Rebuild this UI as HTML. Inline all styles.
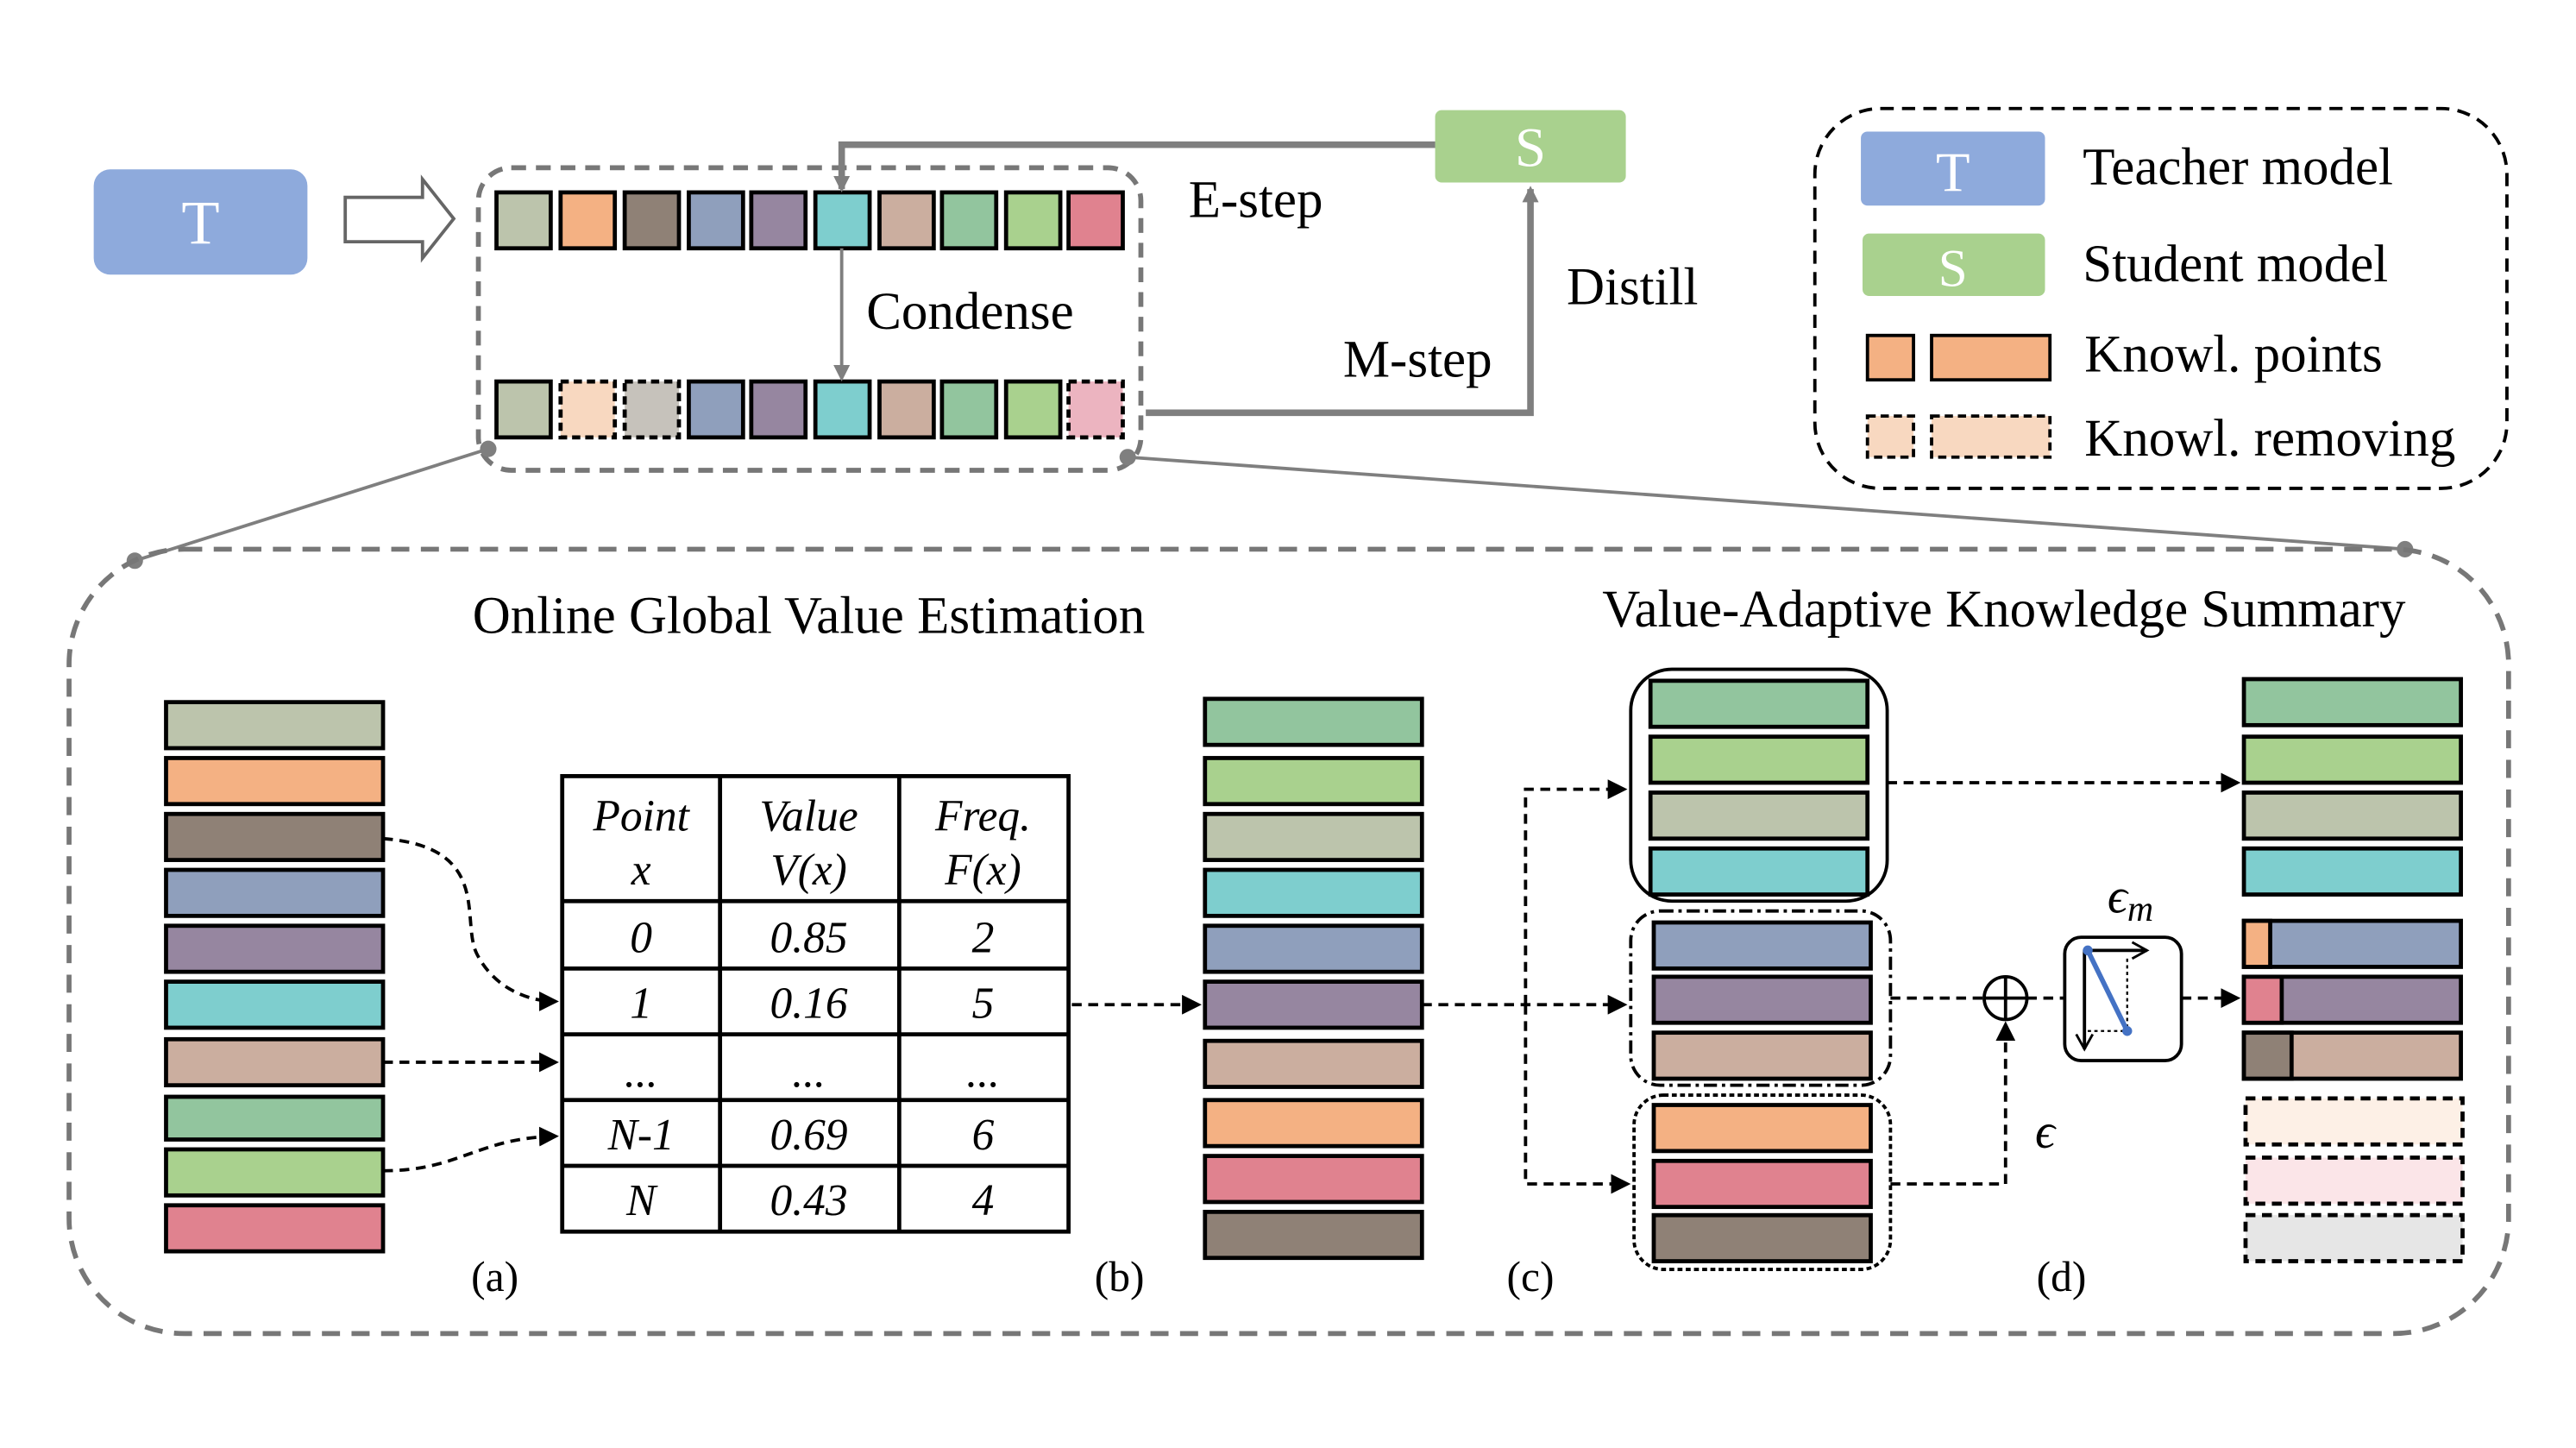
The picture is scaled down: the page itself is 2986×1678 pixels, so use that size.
<!DOCTYPE html>
<html><head><meta charset="utf-8"><style>html,body{margin:0;padding:0;background:#fff}svg{display:block}text{font-family:"Liberation Serif",serif}</style></head><body>
<svg width="2986" height="1678" viewBox="0 0 1567 880.6" xmlns="http://www.w3.org/2000/svg">
<defs>
<marker id="ag" markerWidth="10" markerHeight="10" refX="8" refY="5" orient="auto" markerUnits="userSpaceOnUse"><path d="M0,0 L10,5 L0,10 z" fill="#7f7f7f"/></marker>
<marker id="ak" markerWidth="12" markerHeight="12" refX="10" refY="6" orient="auto" markerUnits="userSpaceOnUse"><path d="M0,0 L12,6 L0,12 z" fill="#000"/></marker>
<marker id="ao" markerWidth="12" markerHeight="12" refX="10" refY="6" orient="auto" markerUnits="userSpaceOnUse"><path d="M1,1 L10,6 L1,11" fill="none" stroke="#000" stroke-width="1.5"/></marker>
</defs>
<rect width="1567" height="880.6" fill="#fff"/>
<rect x="57" y="103" width="130" height="64" rx="10" fill="#8eaadc"/>
<text x="122" y="148" font-size="38" fill="#fff" text-anchor="middle">T</text>
<path d="M210,120 H257 V109 L276,133 L257,157 V147 H210 Z" fill="#fff" stroke="#666" stroke-width="2"/>
<rect x="291" y="102" width="403" height="184" rx="20" fill="none" stroke="#777" stroke-width="3" stroke-dasharray="9,6"/>
<g stroke="#000" stroke-width="2.5">
<rect x="302" y="117" width="33" height="34" fill="#bcc4ac"/>
<rect x="341" y="117" width="33" height="34" fill="#f4b183"/>
<rect x="380" y="117" width="33" height="34" fill="#8f8176"/>
<rect x="419" y="117" width="33" height="34" fill="#8f9fbc"/>
<rect x="457" y="117" width="33" height="34" fill="#9686a0"/>
<rect x="496" y="117" width="33" height="34" fill="#7ecece"/>
<rect x="535" y="117" width="33" height="34" fill="#cbae9f"/>
<rect x="573" y="117" width="33" height="34" fill="#92c59e"/>
<rect x="612" y="117" width="33" height="34" fill="#a9d18e"/>
<rect x="650" y="117" width="33" height="34" fill="#e0828f"/>
<rect x="302" y="232" width="33" height="34" fill="#bcc4ac"/>
<rect x="341" y="232" width="33" height="34" fill="#f8d8c0" stroke-dasharray="5,3"/>
<rect x="380" y="232" width="33" height="34" fill="#c6c2bb" stroke-dasharray="5,3"/>
<rect x="419" y="232" width="33" height="34" fill="#8f9fbc"/>
<rect x="457" y="232" width="33" height="34" fill="#9686a0"/>
<rect x="496" y="232" width="33" height="34" fill="#7ecece"/>
<rect x="535" y="232" width="33" height="34" fill="#cbae9f"/>
<rect x="573" y="232" width="33" height="34" fill="#92c59e"/>
<rect x="612" y="232" width="33" height="34" fill="#a9d18e"/>
<rect x="650" y="232" width="33" height="34" fill="#ecb4c0" stroke-dasharray="5,3"/>
</g>
<line x1="512" y1="151" x2="512" y2="230" stroke="#7f7f7f" stroke-width="2" marker-end="url(#ag)"/>
<text x="527" y="200" font-size="32">Condense</text>
<rect x="873" y="67" width="116" height="44" rx="4" fill="#a9d18e"/>
<text x="931" y="101" font-size="34" fill="#fff" text-anchor="middle">S</text>
<path d="M873,88 H512 V115" fill="none" stroke="#7f7f7f" stroke-width="4" marker-end="url(#ag)"/>
<text x="723" y="132" font-size="32">E-step</text>
<path d="M697,251 H931 V115" fill="none" stroke="#7f7f7f" stroke-width="4" marker-end="url(#ag)"/>
<text x="817" y="229" font-size="32">M-step</text>
<text x="953" y="185" font-size="32">Distill</text>
<rect x="1104" y="66" width="421" height="231" rx="40" fill="none" stroke="#000" stroke-width="2" stroke-dasharray="8,5"/>
<rect x="1132" y="80" width="112" height="45" rx="4" fill="#8eaadc"/>
<text x="1188" y="116" font-size="34" fill="#fff" text-anchor="middle">T</text>
<text x="1267" y="112" font-size="32">Teacher model</text>
<rect x="1133" y="142" width="111" height="38" rx="4" fill="#a9d18e"/>
<text x="1188" y="174" font-size="32" fill="#fff" text-anchor="middle">S</text>
<text x="1267" y="171" font-size="32">Student model</text>
<rect x="1136" y="204" width="28" height="27" fill="#f4b183" stroke="#000" stroke-width="2"/>
<rect x="1175" y="204" width="72" height="27" fill="#f4b183" stroke="#000" stroke-width="2"/>
<text x="1268" y="226" font-size="32">Knowl. points</text>
<rect x="1136" y="253" width="28" height="25" fill="#f8d8c0" stroke="#000" stroke-width="2" stroke-dasharray="5,3"/>
<rect x="1175" y="253" width="72" height="25" fill="#f8d8c0" stroke="#000" stroke-width="2" stroke-dasharray="5,3"/>
<text x="1268" y="277" font-size="32">Knowl. removing</text>
<line x1="297" y1="273" x2="82" y2="341" stroke="#7f7f7f" stroke-width="2"/>
<line x1="686" y1="278" x2="1463" y2="334" stroke="#7f7f7f" stroke-width="2"/>
<circle cx="297" cy="273" r="5" fill="#7f7f7f"/><circle cx="82" cy="341" r="5" fill="#7f7f7f"/>
<circle cx="686" cy="278" r="5" fill="#7f7f7f"/><circle cx="1463" cy="334" r="5" fill="#7f7f7f"/>
<rect x="42" y="334" width="1484" height="477" rx="70" fill="none" stroke="#777" stroke-width="3" stroke-dasharray="11,7"/>
<text x="492" y="385" font-size="32" text-anchor="middle">Online Global Value Estimation</text>
<text x="1219" y="381" font-size="32" text-anchor="middle">Value-Adaptive Knowledge Summary</text>
<g stroke="#000" stroke-width="2.5">
<rect x="101" y="427" width="132" height="28" fill="#bcc4ac"/>
<rect x="101" y="461" width="132" height="28" fill="#f4b183"/>
<rect x="101" y="495" width="132" height="28" fill="#8f8176"/>
<rect x="101" y="529" width="132" height="28" fill="#8f9fbc"/>
<rect x="101" y="563" width="132" height="28" fill="#9686a0"/>
<rect x="101" y="597" width="132" height="28" fill="#7ecece"/>
<rect x="101" y="632" width="132" height="28" fill="#cbae9f"/>
<rect x="101" y="667" width="132" height="26" fill="#92c59e"/>
<rect x="101" y="699" width="132" height="28" fill="#a9d18e"/>
<rect x="101" y="733" width="132" height="28" fill="#e0828f"/>
</g>
<g fill="none" stroke="#000" stroke-width="2" stroke-dasharray="6,4">
<path d="M233,510 C300,515 280,560 290,580 C300,600 320,609 338,609" marker-end="url(#ak)"/>
<path d="M233,646 H338" marker-end="url(#ak)"/>
<path d="M233,712 C280,712 290,692 338,691" marker-end="url(#ak)"/>
</g>
<g stroke="#000" stroke-width="2.5" fill="none">
<rect x="342" y="472" width="308" height="277"/>
<line x1="438" y1="472" x2="438" y2="749"/><line x1="547" y1="472" x2="547" y2="749"/>
<line x1="342" y1="548" x2="650" y2="548"/><line x1="342" y1="589" x2="650" y2="589"/>
<line x1="342" y1="629" x2="650" y2="629"/><line x1="342" y1="669" x2="650" y2="669"/>
<line x1="342" y1="709" x2="650" y2="709"/>
</g>
<g font-size="27" font-style="italic" text-anchor="middle">
<text x="390" y="505">Point</text><text x="390" y="538">x</text>
<text x="492" y="505">Value</text><text x="492" y="538">V(x)</text>
<text x="598" y="505">Freq.</text><text x="598" y="538">F(x)</text>
<text x="390" y="579">0</text><text x="492" y="579">0.85</text><text x="598" y="579">2</text>
<text x="390" y="619">1</text><text x="492" y="619">0.16</text><text x="598" y="619">5</text>
<text x="390" y="661">...</text><text x="492" y="661">...</text><text x="598" y="661">...</text>
<text x="390" y="699">N-1</text><text x="492" y="699">0.69</text><text x="598" y="699">6</text>
<text x="390" y="739">N</text><text x="492" y="739">0.43</text><text x="598" y="739">4</text>
</g>
<g font-size="26" text-anchor="middle"><text x="301" y="785">(a)</text><text x="681" y="785">(b)</text><text x="931" y="785">(c)</text><text x="1254" y="785">(d)</text></g>
<line x1="652" y1="611" x2="729" y2="611" stroke="#000" stroke-width="2" stroke-dasharray="6,4" marker-end="url(#ak)"/>
<g stroke="#000" stroke-width="2.5">
<rect x="733" y="425" width="132" height="28" fill="#92c59e"/>
<rect x="733" y="461" width="132" height="28" fill="#a9d18e"/>
<rect x="733" y="495" width="132" height="28" fill="#bcc4ac"/>
<rect x="733" y="529" width="132" height="28" fill="#7ecece"/>
<rect x="733" y="563" width="132" height="28" fill="#8f9fbc"/>
<rect x="733" y="597" width="132" height="28" fill="#9686a0"/>
<rect x="733" y="633" width="132" height="28" fill="#cbae9f"/>
<rect x="733" y="669" width="132" height="28" fill="#f4b183"/>
<rect x="733" y="703" width="132" height="28" fill="#e0828f"/>
<rect x="733" y="737" width="132" height="28" fill="#8f8176"/>
</g>
<g fill="none" stroke="#000" stroke-width="2" stroke-dasharray="6,4">
<path d="M865,611 H988" marker-end="url(#ak)"/>
<path d="M928,611 V480 H988" marker-end="url(#ak)"/>
<path d="M928,611 V720 H990" marker-end="url(#ak)"/>
</g>
<rect x="992" y="407" width="156" height="141" rx="25" fill="none" stroke="#000" stroke-width="2"/>
<rect x="992" y="554" width="158" height="106" rx="18" fill="none" stroke="#000" stroke-width="2" stroke-dasharray="8,3,2,3"/>
<rect x="994" y="666" width="156" height="106" rx="18" fill="none" stroke="#000" stroke-width="2" stroke-dasharray="3,2"/>
<g stroke="#000" stroke-width="2.5">
<rect x="1004" y="414" width="132" height="28" fill="#92c59e"/>
<rect x="1004" y="448" width="132" height="28" fill="#a9d18e"/>
<rect x="1004" y="482" width="132" height="28" fill="#bcc4ac"/>
<rect x="1004" y="516" width="132" height="28" fill="#7ecece"/>
<rect x="1006" y="561" width="132" height="28" fill="#8f9fbc"/>
<rect x="1006" y="594" width="132" height="28" fill="#9686a0"/>
<rect x="1006" y="628" width="132" height="28" fill="#cbae9f"/>
<rect x="1006" y="672" width="132" height="28" fill="#f4b183"/>
<rect x="1006" y="706" width="132" height="28" fill="#e0828f"/>
<rect x="1006" y="739" width="132" height="28" fill="#8f8176"/>
</g>
<g fill="none" stroke="#000" stroke-width="2" stroke-dasharray="6,4">
<path d="M1148,476 H1361" marker-end="url(#ak)"/>
<path d="M1150,607 H1207"/>
<path d="M1233,607 H1256"/>
<path d="M1327,607 H1361" marker-end="url(#ak)"/>
<path d="M1150,720 H1220 V623" marker-end="url(#ak)"/>
</g>
<circle cx="1220" cy="607" r="13" fill="none" stroke="#000" stroke-width="2"/>
<line x1="1207" y1="607" x2="1233" y2="607" stroke="#000" stroke-width="2"/>
<line x1="1220" y1="594" x2="1220" y2="620" stroke="#000" stroke-width="2"/>
<text x="1238" y="698" font-size="30" font-style="italic">ϵ</text>
<text x="1282" y="555" font-size="30" font-style="italic">ϵ<tspan font-size="22" dy="5">m</tspan></text>
<rect x="1256" y="570" width="71" height="75" rx="10" fill="none" stroke="#000" stroke-width="2"/>
<line x1="1270" y1="578" x2="1306" y2="578" stroke="#000" stroke-width="2" marker-end="url(#ao)"/>
<line x1="1268" y1="578" x2="1268" y2="638" stroke="#000" stroke-width="2" marker-end="url(#ao)"/>
<line x1="1294" y1="583" x2="1294" y2="627" stroke="#000" stroke-width="1.2" stroke-dasharray="2,2"/>
<line x1="1270" y1="627" x2="1294" y2="627" stroke="#000" stroke-width="1.2" stroke-dasharray="2,2"/>
<line x1="1270" y1="578" x2="1294" y2="627" stroke="#4472c4" stroke-width="3"/>
<circle cx="1270" cy="578" r="3" fill="#4472c4"/><circle cx="1294" cy="627" r="3" fill="#4472c4"/>
<g stroke="#000" stroke-width="2.5">
<rect x="1365" y="413" width="132" height="28" fill="#92c59e"/>
<rect x="1365" y="448" width="132" height="28" fill="#a9d18e"/>
<rect x="1365" y="482" width="132" height="28" fill="#bcc4ac"/>
<rect x="1365" y="516" width="132" height="28" fill="#7ecece"/>
<rect x="1365" y="560" width="132" height="28" fill="#8f9fbc"/>
<rect x="1365" y="560" width="16" height="28" fill="#f4b183"/>
<rect x="1365" y="594" width="132" height="28" fill="#9686a0"/>
<rect x="1365" y="594" width="23" height="28" fill="#e0828f"/>
<rect x="1365" y="628" width="132" height="28" fill="#cbae9f"/>
<rect x="1365" y="628" width="29" height="28" fill="#8f8176"/>
<rect x="1366" y="668" width="132" height="28" fill="#fdf0e6" stroke-dasharray="6,4"/>
<rect x="1366" y="704" width="132" height="28" fill="#fbe5e8" stroke-dasharray="6,4"/>
<rect x="1366" y="739" width="132" height="28" fill="#e6e6e6" stroke-dasharray="6,4"/>
</g>
</svg>
</body></html>
